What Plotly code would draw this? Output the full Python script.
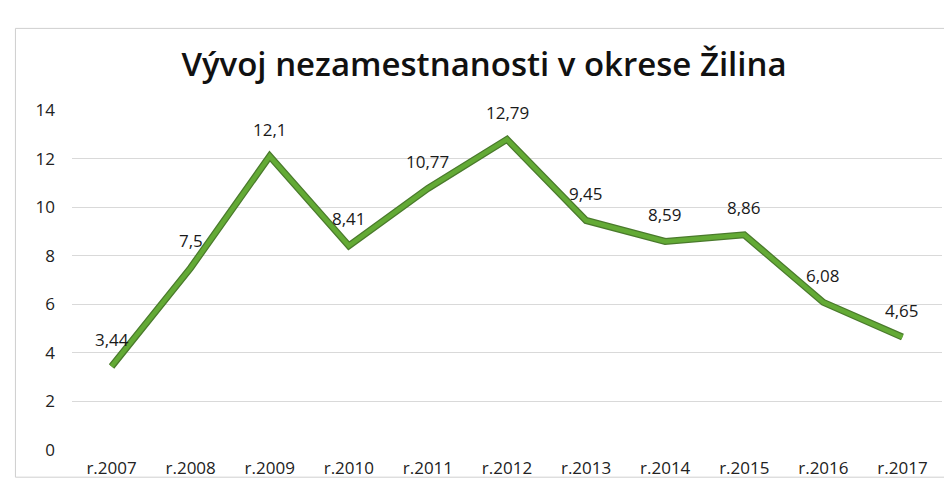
import plotly.graph_objects as go

categories = ["r.2007", "r.2008", "r.2009", "r.2010", "r.2011", "r.2012",
              "r.2013", "r.2014", "r.2015", "r.2016", "r.2017"]
values = [3.44, 7.5, 12.1, 8.41, 10.77, 12.79, 9.45, 8.59, 8.86, 6.08, 4.65]
labels = ["3,44", "7,5", "12,1", "8,41", "10,77", "12,79", "9,45", "8,59", "8,86", "6,08", "4,65"]
title = "Vývoj nezamestnanosti v okrese Žilina"

fig = go.Figure()
# dark edge / shadow
fig.add_trace(go.Scatter(x=categories, y=values, mode="lines",
                         line=dict(color="#4a7a2c", width=7),
                         hoverinfo="skip", showlegend=False))
fig.add_trace(go.Scatter(x=categories, y=values, mode="lines",
                         line=dict(color="#63aa35", width=4.5),
                         showlegend=False))

for c, v, t in zip(categories, values, labels):
    fig.add_annotation(x=c, y=v, text=t, showarrow=False, yshift=27,
                       font=dict(family="Open Sans", size=17, color="#1a1a1a"))

fig.add_shape(type="rect", xref="paper", yref="paper",
              x0=-0.065, x1=1.015, y0=-0.08, y1=1.24,
              line=dict(color="#cfcfcf", width=1))

fig.update_layout(
    width=952, height=492,
    margin=dict(l=64, r=18, t=102, b=50),
    paper_bgcolor="white", plot_bgcolor="white",
    title=dict(text=title, x=0.5, xanchor="center", y=0.885, yanchor="middle",
               font=dict(family="Open Sans", size=33, color="#111111", weight=600)),
    xaxis=dict(range=[-0.5, 10.5], showgrid=False, showline=False, zeroline=False,
               ticks="", ticklabelstandoff=6,
               tickfont=dict(family="Open Sans", size=17, color="#222222")),
    yaxis=dict(range=[0, 14], dtick=2, showgrid=True, gridcolor="#d9d9d9", gridwidth=1,
               zeroline=False, showline=False, ticks="", ticklabelstandoff=16,
               tickfont=dict(family="Open Sans", size=17, color="#222222")),
)

fig.write_html("out.html")
